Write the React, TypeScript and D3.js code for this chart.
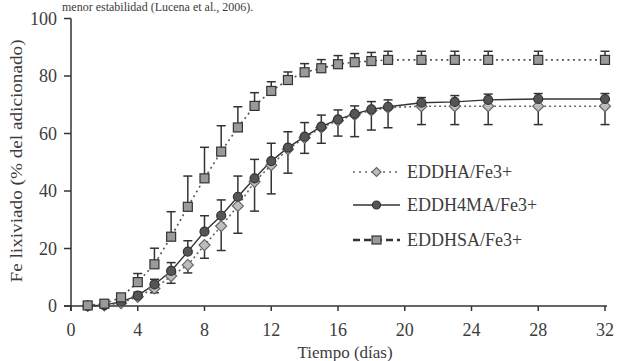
import React from "react";
import * as d3 from "d3";

const days = [1, 2, 3, 4, 5, 6, 7, 8, 9, 10, 11, 12, 13, 14, 15, 16, 17, 18, 19, 21, 23, 25, 28, 32];

const eddhsa = [0.2, 0.8, 3.0, 8.3, 14.5, 24.1, 34.5, 44.4, 53.7, 62.1, 69.6, 74.8, 78.6, 81.3, 82.7, 84.1, 84.8, 85.2, 85.6, 85.6, 85.6, 85.6, 85.6, 85.6];
const eddhsaErrUp = [0.5, 0.8, 1.2, 3, 5.6, 8.7, 10.7, 10.8, 9, 7.2, 4.6, 3.2, 2.8, 3, 3, 3, 3, 3, 3, 3, 3, 3, 3, 3];

const eddh4ma = [0, 0.3, 1.5, 3.6, 7.5, 12.2, 18.9, 25.9, 31.4, 38.0, 44.4, 50.4, 55.1, 58.9, 62.4, 64.9, 66.8, 68.4, 69.3, 70.7, 71.0, 71.7, 72.0, 72.0];
const eddh4maErrUp = [0, 0.3, 0.8, 1.2, 1.8, 2.9, 3.8, 5.5, 5.5, 7.2, 6.6, 6.2, 5.5, 4.9, 4, 3.3, 2.8, 2.7, 2.4, 1.8, 2.2, 2, 1.9, 1.9];

const eddha = [0, 0.2, 1.0, 3.2, 6.1, 10.4, 14.3, 21.2, 27.8, 34.8, 43.2, 49.0, 54.5, 58.5, 62.0, 64.5, 66.5, 68.0, 69.0, 69.5, 69.5, 69.5, 69.5, 69.5];
const eddhaErrDown = [0, 0.2, 0.5, 1, 1.5, 2.5, 2.8, 4.6, 8.5, 9.5, 10.2, 10, 8.3, 5.4, 5.4, 5.4, 7.6, 6.8, 7, 6.4, 6.4, 6.4, 6.4, 6.4];

const xTicks = [0, 4, 8, 12, 16, 20, 24, 28, 32];
const yTicks = [0, 20, 40, 60, 80, 100];
const legendLabels = ["EDDHA/Fe3+", "EDDH4MA/Fe3+", "EDDHSA/Fe3+"];

const FONT = "'Liberation Serif', 'Times New Roman', serif";
const AXIS = "#333";
const TXT = "#3c3c3c";

export default function App() {
  const x = d3.scaleLinear().domain([0, 32]).range([71, 605]);
  const y = d3.scaleLinear().domain([0, 100]).range([306, 18.5]);

  const lineGen = (vals: number[]) =>
    d3.line<number>().x((_, i) => x(days[i])).y((v) => y(v))(vals) || "";

  const diamond = (cx: number, cy: number, r: number) =>
    `M${cx},${cy - r}L${cx + r},${cy}L${cx},${cy + r}L${cx - r},${cy}Z`;

  const cap = 4.5;

  const legendY = [172, 205, 240];
  const lx0 = 353, lx1 = 400, lxm = 376.5;

  return (
    <svg
      width={618}
      height={361}
      style={{ position: "absolute", left: 0, top: 0, background: "#fff" }}
      fontFamily={FONT}
    >
      <rect width={618} height={361} fill="#fff" />
      {/* caption partly visible at top in the source */}
      <text x={62} y={11} fontSize={12} fill={TXT}>menor estabilidad (Lucena et al., 2006).</text>

      {/* axes */}
      <line x1={x(0)} x2={x(0)} y1={y(100)} y2={311} stroke={AXIS} strokeWidth={1.5} />
      <line x1={64} x2={x(32) + 2} y1={y(0)} y2={y(0)} stroke={AXIS} strokeWidth={1.5} />
      {yTicks.map((t) => (
        <g key={"yt" + t}>
          <line x1={64} x2={x(0)} y1={y(t)} y2={y(t)} stroke={AXIS} strokeWidth={1.5} />
          <text x={57} y={y(t)} dy="0.35em" textAnchor="end" fontSize={18} fill={TXT}>{t}</text>
        </g>
      ))}
      {xTicks.map((t) => (
        <g key={"xt" + t}>
          <line x1={x(t)} x2={x(t)} y1={y(0)} y2={311} stroke={AXIS} strokeWidth={1.5} />
          <text x={x(t)} y={336} textAnchor="middle" fontSize={18} fill={TXT}>{t}</text>
        </g>
      ))}
      <text x={345} y={358} textAnchor="middle" fontSize={17} fill={TXT}>Tiempo (días)</text>
      <text
        transform={`translate(22,${161}) rotate(-90)`}
        textAnchor="middle"
        fontSize={16}
        fill={TXT}
        textLength={243}
        lengthAdjust="spacingAndGlyphs"
      >
        Fe lixiviado  (% del adicionado)
      </text>

      {/* lines */}
      <path d={lineGen(eddhsa)} fill="none" stroke="#555" strokeWidth={1.6} strokeDasharray="2,3.5" />
      <path d={lineGen(eddha)} fill="none" stroke="#666" strokeWidth={1.6} strokeDasharray="2,3" />
      <path d={lineGen(eddh4ma)} fill="none" stroke="#333" strokeWidth={1.4} />

      {/* error bars */}
      {days.map((d, i) => {
        const cx = x(d);
        return (
          <g key={"eb" + d} stroke="#333" strokeWidth={1.5}>
            {eddhsaErrUp[i] > 1 && (
              <>
                <line x1={cx} x2={cx} y1={y(eddhsa[i])} y2={y(eddhsa[i] + eddhsaErrUp[i])} />
                <line x1={cx - cap} x2={cx + cap} y1={y(eddhsa[i] + eddhsaErrUp[i])} y2={y(eddhsa[i] + eddhsaErrUp[i])} />
              </>
            )}
            {eddh4maErrUp[i] > 1 && (
              <>
                <line x1={cx} x2={cx} y1={y(eddh4ma[i])} y2={y(eddh4ma[i] + eddh4maErrUp[i])} />
                <line x1={cx - cap} x2={cx + cap} y1={y(eddh4ma[i] + eddh4maErrUp[i])} y2={y(eddh4ma[i] + eddh4maErrUp[i])} />
              </>
            )}
            {eddhaErrDown[i] > 1 && (
              <>
                <line x1={cx} x2={cx} y1={y(eddha[i])} y2={y(eddha[i] - eddhaErrDown[i])} />
                <line x1={cx - cap} x2={cx + cap} y1={y(eddha[i] - eddhaErrDown[i])} y2={y(eddha[i] - eddhaErrDown[i])} />
              </>
            )}
          </g>
        );
      })}

      {/* markers */}
      {days.map((d, i) => (
        <path key={"dm" + d} d={diamond(x(d), y(eddha[i]), 5.5)} fill="#bdbdbd" stroke="#666" strokeWidth={1.2} />
      ))}
      {days.map((d, i) => (
        <circle key={"ci" + d} cx={x(d)} cy={y(eddh4ma[i])} r={4.5} fill="#555" stroke="#333" strokeWidth={1.2} />
      ))}
      {days.map((d, i) => (
        <rect key={"sq" + d} x={x(d) - 4.5} y={y(eddhsa[i]) - 4.5} width={9} height={9} fill="#9a9a9a" stroke="#333" strokeWidth={1.2} />
      ))}

      {/* legend */}
      <g>
        <line x1={lx0} x2={lx1} y1={legendY[0]} y2={legendY[0]} stroke="#666" strokeWidth={1.6} strokeDasharray="2,4" />
        <path d={diamond(lxm, legendY[0], 4.5)} fill="#bdbdbd" stroke="#666" strokeWidth={1.2} />
        <line x1={lx0} x2={lx1} y1={legendY[1]} y2={legendY[1]} stroke="#333" strokeWidth={1.5} />
        <circle cx={lxm} cy={legendY[1]} r={4} fill="#555" stroke="#333" strokeWidth={1.2} />
        <line x1={lx0} x2={lx1} y1={legendY[2]} y2={legendY[2]} stroke="#333" strokeWidth={2.4} strokeDasharray="7,4" />
        <rect x={lxm - 4.5} y={legendY[2] - 4} width={9} height={8} fill="#9a9a9a" stroke="#333" strokeWidth={1.2} />
        {legendLabels.map((l, i) => (
          <text key={l} x={407} y={legendY[i]} dy="0.35em" fontSize={18} fill={TXT}>{l}</text>
        ))}
      </g>
    </svg>
  );
}
